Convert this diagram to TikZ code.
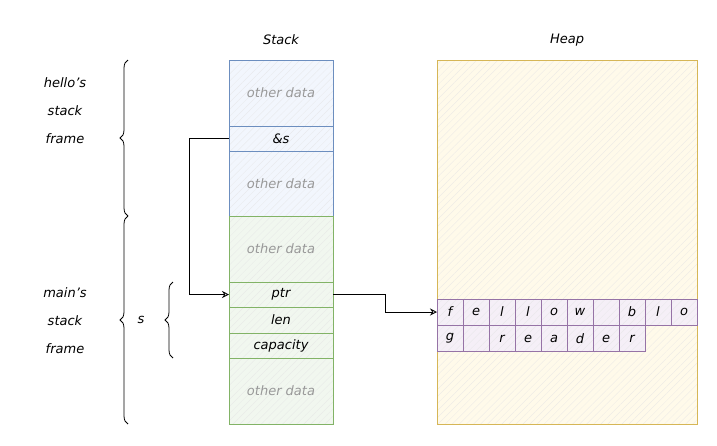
\documentclass[tikz,border=0pt]{standalone}
\usepackage{fontspec}
\setmainfont{DejaVu Sans}
\usetikzlibrary{positioning,arrows.meta,patterns.meta,decorations.pathreplacing}
\definecolor{stkblue}{HTML}{6C8EBF}
\definecolor{stkblueF}{HTML}{F2F6FD}
\definecolor{stkgreen}{HTML}{82B366}
\definecolor{stkgreenF}{HTML}{F1F7EF}
\definecolor{heapyel}{HTML}{D6B656}
\definecolor{heapyelF}{HTML}{FFFAEA}
\definecolor{charpur}{HTML}{9673A6}
\definecolor{charpurF}{HTML}{F5EFF7}
\tikzset{
  every node/.style={font=\fontsize{13}{28}\selectfont\itshape},
  hatched/.style={preaction={fill=#1}, pattern={Lines[angle=45,distance=5pt,line width=0.3pt]}, pattern color=#1!60!gray!40},
  cellblue/.style={draw=stkblue, line width=0.8pt, hatched=stkblueF, minimum width=104pt, outer sep=0pt, inner sep=0pt},
  cellgreen/.style={draw=stkgreen, line width=0.8pt, hatched=stkgreenF, minimum width=104pt, outer sep=0pt, inner sep=0pt},
  charcell/.style={draw=charpur, line width=0.8pt, hatched=charpurF, minimum width=26pt, minimum height=26pt, outer sep=0pt, inner sep=0pt},
  framebrace/.style={decorate, decoration={brace, amplitude=8pt}, thick},
  ptrarrow/.style={-{Stealth[open,length=7pt,width=7pt]}, thick},
  dim/.style={text=gray!80}
}
\begin{document}
\begin{tikzpicture}[x=1pt,y=-1pt]
\useasboundingbox (0,0) rectangle (717,445);

% stack
\node (stacklbl) at (281,40) {Stack};
\node[cellblue, minimum height=66pt, dim] (other1) at (281,93) {other data};
\node[cellblue, minimum height=25pt, below=0pt of other1] (amp) {\&s};
\node[cellblue, minimum height=65pt, below=0pt of amp, dim] (other2) {other data};
\node[cellgreen, minimum height=66pt, below=0pt of other2, dim] (other3) {other data};
\node[cellgreen, minimum height=25pt, below=0pt of other3] (ptr) {ptr};
\node[cellgreen, minimum height=26pt, below=0pt of ptr] (len) {len};
\node[cellgreen, minimum height=25pt, below=0pt of len] (cap) {capacity};
\node[cellgreen, minimum height=66pt, below=0pt of cap, dim] (other4) {other data};

% heap
\node (heaplbl) at (567,40) {Heap};
\node[draw=heapyel, line width=0.8pt, hatched=heapyelF, minimum width=260pt, minimum height=364pt] (heap) at (567,242) {};
\foreach \ch [count=\i] in {f,e,l,l,o,w,{},b,l,o}
  \node[charcell] (hA\i) at ({450+26*(\i-1)},312) {\ch};
\foreach \ch [count=\i] in {g,{},r,e,a,d,e,r}
  \node[charcell] (hB\i) at ({450+26*(\i-1)},338.5) {\ch};

% frames
\draw[framebrace] (128,216) -- (128,60);
\draw[framebrace] (128,424) -- (128,216);
\draw[framebrace] (173,358) -- (173,282);
\node[align=center] (hellolbl) at (65,111) {hello's\\stack\\frame};
\node[align=center] (mainlbl) at (65,321) {main's\\stack\\frame};
\node (slbl) at (141,320) {s};

% pointers
\draw[ptrarrow] (amp.west) -- ++(-40,0) |- (ptr.west);
\draw[ptrarrow] (ptr.east) -- ++(52,0) |- (hA1.west);
\end{tikzpicture}
\end{document}
